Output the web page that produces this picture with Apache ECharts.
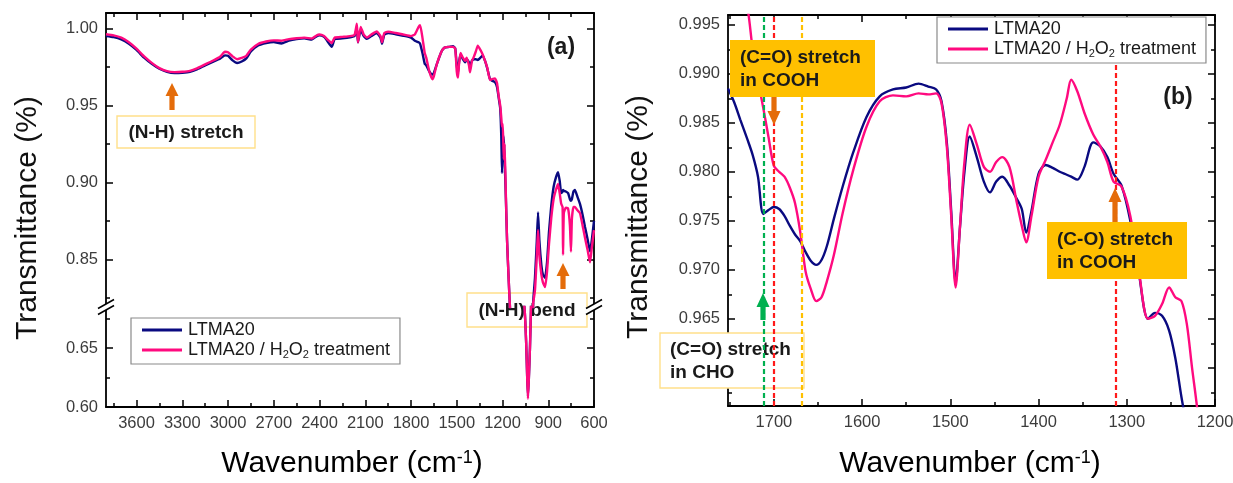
<!DOCTYPE html>
<html><head><meta charset="utf-8">
<script src="https://cdn.jsdelivr.net/npm/echarts@6/dist/echarts.min.js"></script>
<style>html,body{margin:0;padding:0;background:#fff}#c{width:1233px;height:483px}</style>
</head><body><div id="c"></div>
<script>
// ---------------- data ----------------
const seriesNames = ['LTMA20', 'LTMA20 / H2O2 treatment'];
const seriesColors = ['#0a0a80', '#ff0a7f'];

// Panel (a): full spectrum
const aWn = [3800,3750,3700,3650,3600,3550,3500,3450,3400,3350,3300,3250,3200,3150,3100,3050,3020,3000,2970,2940,2910,2880,2850,2800,2750,2700,2650,2600,2550,2500,2450,2420,2400,2370,2350,2320,2300,2250,2200,2170,2155,2148,2130,2110,2090,2060,2025,2000,1990,1975,1950,1900,1850,1800,1775,1750,1740,1725,1710,1700,1680,1660,1650,1630,1600,1580,1550,1525,1510,1500,1492,1485,1475,1460,1445,1435,1420,1413,1400,1390,1375,1362,1345,1330,1315,1300,1282,1269,1249,1236,1225,1215,1208,1203,1198,1192,1186,1178,1170,1160,1150,1100,1055,1045,1038,1033,1027,1020,1013,1005,1000,987,975,967,958,945,935,921,908,895,880,865,850,836,825,815,806,803,798,785,770,758,751,745,735,725,710,692,675,659,642,626,615,600];
const aBlue = [0.9950,0.9943,0.9928,0.9900,0.9860,0.9810,0.9770,0.9738,0.9718,0.9710,0.9712,0.9718,0.9736,0.9760,0.9782,0.9805,0.9825,0.9822,0.9792,0.9775,0.9785,0.9805,0.9850,0.9890,0.9905,0.9912,0.9902,0.9920,0.9930,0.9935,0.9928,0.9948,0.9955,0.9945,0.9920,0.9880,0.9930,0.9935,0.9942,0.9950,1.0000,0.9910,0.9990,0.9950,0.9932,0.9950,0.9970,0.9940,0.9900,0.9960,0.9970,0.9962,0.9952,0.9940,0.9920,0.9910,0.9900,0.9840,0.9770,0.9760,0.9720,0.9700,0.9710,0.9770,0.9850,0.9875,0.9880,0.9885,0.9870,0.9760,0.9710,0.9780,0.9830,0.9800,0.9780,0.9800,0.9780,0.9760,0.9790,0.9800,0.9800,0.9795,0.9810,0.9825,0.9790,0.9740,0.9670,0.9660,0.9650,0.9620,0.9550,0.9480,0.9300,0.9060,0.9280,0.9300,0.9150,0.8900,0.8620,0.8380,0.8170,0.7500,0.6830,0.6550,0.6250,0.6090,0.6250,0.6500,0.6850,0.7500,0.8200,0.8380,0.8620,0.8805,0.8620,0.8460,0.8400,0.8380,0.8480,0.8680,0.8850,0.8970,0.9030,0.9065,0.9010,0.8930,0.8940,0.8950,0.8945,0.8940,0.8930,0.8890,0.8880,0.8890,0.8940,0.8950,0.8910,0.8860,0.8790,0.8710,0.8630,0.8550,0.8620,0.8750];
const aPink = [0.9962,0.9955,0.9940,0.9910,0.9868,0.9818,0.9776,0.9742,0.9722,0.9716,0.9718,0.9724,0.9742,0.9766,0.9790,0.9818,0.9848,0.9845,0.9818,0.9800,0.9808,0.9822,0.9862,0.9900,0.9915,0.9922,0.9920,0.9930,0.9936,0.9940,0.9934,0.9954,0.9960,0.9950,0.9930,0.9905,0.9940,0.9945,0.9950,0.9958,1.0030,0.9910,1.0010,0.9960,0.9940,0.9960,0.9980,0.9950,0.9910,0.9970,0.9978,0.9970,0.9960,0.9950,0.9960,1.0010,1.0020,0.9940,0.9840,0.9810,0.9720,0.9670,0.9690,0.9770,0.9850,0.9875,0.9880,0.9880,0.9870,0.9720,0.9680,0.9770,0.9840,0.9810,0.9790,0.9810,0.9760,0.9715,0.9790,0.9810,0.9850,0.9888,0.9860,0.9830,0.9790,0.9745,0.9665,0.9670,0.9675,0.9645,0.9560,0.9500,0.9420,0.9360,0.9380,0.9150,0.9250,0.8920,0.8620,0.8380,0.8170,0.7500,0.6830,0.6550,0.6250,0.6070,0.6250,0.6500,0.6850,0.7500,0.8200,0.8300,0.8520,0.8690,0.8520,0.8400,0.8350,0.8320,0.8420,0.8600,0.8770,0.8890,0.8950,0.8990,0.8930,0.8860,0.8840,0.8530,0.8800,0.8835,0.8830,0.8720,0.8550,0.8760,0.8840,0.8840,0.8820,0.8800,0.8720,0.8640,0.8560,0.8480,0.8570,0.8690];

// Panel (b): 1750-1200 cm-1 detail
const bWn = [1752,1745,1738,1730,1724,1718,1712,1706,1700,1694,1688,1682,1676,1670,1664,1658,1652,1646,1640,1632,1622,1610,1595,1580,1565,1550,1536,1525,1516,1510,1504,1499,1494,1489,1484,1478,1470,1462,1455,1448,1441,1433,1425,1419,1414,1408,1400,1392,1384,1376,1368,1363,1356,1348,1338,1330,1322,1315,1306,1296,1286,1276,1268,1260,1252,1245,1238,1232,1226,1220,1214];
const bBlue = [0.9885,0.9871,0.9853,0.9833,0.9817,0.9795,0.9757,0.9761,0.9764,0.9762,0.9755,0.9745,0.9736,0.9729,0.9718,0.9709,0.9705,0.9710,0.9724,0.9752,0.9785,0.9820,0.9856,0.9877,0.9884,0.9886,0.9890,0.9887,0.9884,0.9872,0.9830,0.9760,0.9687,0.9744,0.9800,0.9836,0.9815,0.9790,0.9779,0.9790,0.9795,0.9786,0.9773,0.9762,0.9738,0.9760,0.9798,0.9807,0.9804,0.9800,0.9797,0.9795,0.9792,0.9805,0.9830,0.9826,0.9815,0.9798,0.9786,0.9750,0.9695,0.9650,0.9656,0.9653,0.9638,0.9610,0.9570,0.9540,0.9510,0.9480,0.9450];
const bPink = [1.0030,1.0015,0.9995,0.9968,0.9925,0.9893,0.9865,0.9835,0.9806,0.9800,0.9795,0.9784,0.9768,0.9738,0.9698,0.9680,0.9668,0.9672,0.9688,0.9715,0.9758,0.9802,0.9846,0.9872,0.9878,0.9877,0.9880,0.9879,0.9880,0.9870,0.9826,0.9755,0.9682,0.9745,0.9810,0.9848,0.9828,0.9805,0.9800,0.9810,0.9815,0.9805,0.9770,0.9745,0.9728,0.9755,0.9795,0.9812,0.9830,0.9848,0.9875,0.9894,0.9882,0.9860,0.9838,0.9826,0.9810,0.9790,0.9785,0.9755,0.9697,0.9650,0.9653,0.9665,0.9682,0.9672,0.9668,0.9645,0.9600,0.9557,0.9500];

// marker wavenumbers in panel (b)
const bMarkers = [
  {wn: 1712, color: '#00b050'},
  {wn: 1700, color: '#ff1a1a'},
  {wn: 1668, color: '#ffc000'},
  {wn: 1313, color: '#ff1a1a'}
];

// tick values
const aXMajor = [600,900,1200,1500,1800,2100,2400,2700,3000,3300,3600];
const aXMinor = [750,1050,1350,1650,1950,2250,2550,2850,3150,3450,3750];
const aYUpMajor = [0.85,0.90,0.95,1.00];
const aYUpMinor = [0.825,0.875,0.925,0.975];
const aYLoMajor = [0.60,0.65];
const aYLoMinor = [0.625,0.675];
const bXMajor = [1200,1300,1400,1500,1600,1700];
const bXMinor = [1250,1350,1450,1550,1650,1750];
const bYMajor = [0.960,0.965,0.970,0.975,0.980,0.985,0.990,0.995];
const bYMinor = [0.9575,0.9625,0.9675,0.9725,0.9775,0.9825,0.9875,0.9925];
const bYLabels = [0.965,0.970,0.975,0.980,0.985,0.990,0.995];

// ---------------- chart ----------------
const FF = 'Arial, "Liberation Sans", Helvetica, sans-serif';
const INK = '#1a1a1a';

function mkAxis(o) {
  return {
    type: 'value', gridIndex: o.grid, position: o.pos, min: o.min, max: o.max, inverse: !!o.inverse,
    axisLine: {show: !!o.line, onZero: false, lineStyle: {color: '#000', width: 1.8}},
    axisTick: {show: true, inside: true, length: o.len, customValues: o.ticks, lineStyle: {color: '#000', width: 1.5}},
    minorTick: {show: false},
    splitLine: {show: false},
    axisLabel: o.labels ? {show: true, customValues: o.labels, formatter: o.fmt, color: '#3c3c3c',
      fontSize: 16.5, fontFamily: FF, margin: 8} : {show: false},
    silent: true
  };
}
const A_X = {min: 600, max: 3800, inverse: true};
const A_YU = {min: 0.819, max: 1.01};
const A_YL = {min: 0.60, max: 0.685};
const B_X = {min: 1200, max: 1752, inverse: true};
const B_Y = {min: 0.9561, max: 0.996};
const MAJ = 7, MIN = 4;
const f2 = v => v.toFixed(2), f3 = v => v.toFixed(3);

const xAxes = [
  mkAxis({grid: 0, pos: 'top', ...A_X, line: true, ticks: aXMajor, len: MAJ}),           // 0
  mkAxis({grid: 0, pos: 'top', ...A_X, ticks: aXMinor, len: MIN}),                         // 1
  mkAxis({grid: 1, pos: 'bottom', ...A_X, line: true, ticks: aXMajor, len: MAJ, labels: aXMajor, fmt: v => String(v)}), // 2
  mkAxis({grid: 1, pos: 'bottom', ...A_X, ticks: aXMinor, len: MIN}),                      // 3
  mkAxis({grid: 2, pos: 'bottom', ...B_X, line: true, ticks: bXMajor, len: MAJ, labels: bXMajor, fmt: v => String(v)}), // 4
  mkAxis({grid: 2, pos: 'bottom', ...B_X, ticks: bXMinor, len: MIN}),                      // 5
  mkAxis({grid: 2, pos: 'top', ...B_X, line: true, ticks: bXMajor, len: MAJ}),             // 6
  mkAxis({grid: 2, pos: 'top', ...B_X, ticks: bXMinor, len: MIN})                          // 7
];
const yAxes = [
  mkAxis({grid: 0, pos: 'left', ...A_YU, line: true, ticks: aYUpMajor, len: MAJ, labels: aYUpMajor, fmt: f2}), // 0
  mkAxis({grid: 0, pos: 'left', ...A_YU, ticks: aYUpMinor, len: MIN}),
  mkAxis({grid: 0, pos: 'right', ...A_YU, line: true, ticks: aYUpMajor, len: MAJ}),
  mkAxis({grid: 0, pos: 'right', ...A_YU, ticks: aYUpMinor, len: MIN}),
  mkAxis({grid: 1, pos: 'left', ...A_YL, line: true, ticks: aYLoMajor, len: MAJ, labels: aYLoMajor, fmt: f2}), // 4
  mkAxis({grid: 1, pos: 'left', ...A_YL, ticks: aYLoMinor, len: MIN}),
  mkAxis({grid: 1, pos: 'right', ...A_YL, line: true, ticks: aYLoMajor, len: MAJ}),
  mkAxis({grid: 1, pos: 'right', ...A_YL, ticks: aYLoMinor, len: MIN}),
  mkAxis({grid: 2, pos: 'left', ...B_Y, line: true, ticks: bYMajor, len: MAJ, labels: bYLabels, fmt: f3}),   // 8
  mkAxis({grid: 2, pos: 'left', ...B_Y, ticks: bYMinor, len: MIN}),
  mkAxis({grid: 2, pos: 'right', ...B_Y, line: true, ticks: bYMajor, len: MAJ}),
  mkAxis({grid: 2, pos: 'right', ...B_Y, ticks: bYMinor, len: MIN})
];

function pairs(xs, ys) { return xs.map((x, i) => [x, ys[i]]); }
function line(name, color, data, xi, yi, smooth, extra) {
  return Object.assign({
    type: 'line', name, data, xAxisIndex: xi, yAxisIndex: yi, symbol: 'none', showSymbol: false,
    smooth, clip: true, lineStyle: {color, width: 2.4}, itemStyle: {color}, z: 2, silent: true
  }, extra || {});
}
const series = [
  line(seriesNames[0], seriesColors[0], pairs(aWn, aBlue), 0, 0, 0.15),
  line(seriesNames[1], seriesColors[1], pairs(aWn, aPink), 0, 0, 0.15),
  line(seriesNames[0], seriesColors[0], pairs(aWn, aBlue), 2, 4, 0.15),
  line(seriesNames[1], seriesColors[1], pairs(aWn, aPink), 2, 4, 0.15),
  line(seriesNames[0], seriesColors[0], pairs(bWn, bBlue), 4, 8, 0.3, {
    markLine: {
      symbol: 'none', silent: true, label: {show: false}, animation: false,
      lineStyle: {type: [5, 3], width: 2.2},
      data: bMarkers.map(m => ({xAxis: m.wn, lineStyle: {color: m.color, type: [5, 3], width: 2.2}}))
    }
  }),
  line(seriesNames[1], seriesColors[1], pairs(bWn, bPink), 4, 8, 0.3)
];

const legendRich = {
  n: {fontSize: 18, fontFamily: FF, color: INK, lineHeight: 20},
  s: {fontSize: 11, fontFamily: FF, color: INK, lineHeight: 20, verticalAlign: 'bottom', padding: [8, 0, 0, 0]}
};
const legendFmt = name => '{n|' + name.replace('H2O2', 'H}{s|2}{n|O}{s|2}{n|') + '}';
function mkLegend(left, top) {
  return {
    show: true, orient: 'vertical', left, top, data: seriesNames, icon: 'path://M0,0 L40,0 L40,3 L0,3 Z',
    itemWidth: 42, itemHeight: 3, itemGap: 2, padding: [3, 10, 4, 11],
    borderColor: '#8a8a8a', borderWidth: 1.2, backgroundColor: '#fff',
    formatter: legendFmt, textStyle: {rich: legendRich}, selectedMode: false, z: 6
  };
}

// annotations (pixel positions)
function arrow(x, tip, base, end, color) {
  const hw = 6.5, sw = 2.6;
  return {type: 'polygon', z: 20, silent: true,
    shape: {points: [[x, tip], [x + hw, base], [x + sw, base], [x + sw, end], [x - sw, end], [x - sw, base], [x - hw, base]]},
    style: {fill: color}};
}
function box(x, y, w, h, fill, stroke, z) {
  return {type: 'rect', z, silent: true, shape: {x, y, width: w, height: h},
    style: {fill, stroke: stroke || null, lineWidth: stroke ? 1.4 : 0}};
}
function txt(x, y, text, size, weight, align, z, extra, rot) {
  return {type: 'text', x, y, z: z || 21, silent: true, rotation: rot || 0,
    style: Object.assign({text, fontSize: size, fontWeight: weight, fontFamily: FF, fill: INK,
      align: align || 'left', verticalAlign: 'middle'}, extra || {})};
}
function breakMark(x, y) {
  return [
    {type: 'polygon', z: 20, silent: true, shape: {points: [[x - 8, y + 1.5], [x + 8, y - 7.5], [x + 8, y - 1.5], [x - 8, y + 7.5]]}, style: {fill: '#fff'}},
    {type: 'line', z: 21, silent: true, shape: {x1: x - 8, y1: y + 1.5, x2: x + 8, y2: y - 7.5}, style: {stroke: '#000', lineWidth: 1.5}},
    {type: 'line', z: 21, silent: true, shape: {x1: x - 8, y1: y + 7.5, x2: x + 8, y2: y - 1.5}, style: {stroke: '#000', lineWidth: 1.5}}
  ];
}
const ORANGE = '#e46c0a', GOLD = '#ffc000', PALE = '#ffe08a', GREEN = '#00b050';
const titleRich = {
  t: {fontSize: 30, fontFamily: FF, color: '#111'},
  s: {fontSize: 18, fontFamily: FF, color: '#111', verticalAlign: 'top'}
};
const graphics = [
  // axis titles
  txt(28, 218, 'Transmittance (%)', 30, 'normal', 'center', 21, {fill: '#111'}, Math.PI / 2),
  txt(639, 217, 'Transmittance (%)', 30, 'normal', 'center', 21, {fill: '#111'}, Math.PI / 2),
  {type: 'text', x: 352, y: 464, z: 21, silent: true, style: {text: '{t|Wavenumber (cm}{s|-1}{t|)}', rich: titleRich, align: 'center', verticalAlign: 'middle'}},
  {type: 'text', x: 970, y: 464, z: 21, silent: true, style: {text: '{t|Wavenumber (cm}{s|-1}{t|)}', rich: titleRich, align: 'center', verticalAlign: 'middle'}},
  // panel (a)
  txt(561, 48, '(a)', 23, 'bold', 'center'),
  arrow(172, 83, 96, 110, ORANGE),
  box(117, 116, 138, 32, '#fff', PALE, 1),
  txt(186, 133, '(N-H) stretch', 19, 'bold', 'center'),
  arrow(563, 263, 276, 289, ORANGE),
  box(467, 293, 120, 34, '#fff', PALE, 1),
  txt(527, 311, '(N-H) bend', 19, 'bold', 'center', 1),
  ...breakMark(106, 307),
  ...breakMark(594, 307),
  // panel (b)
  txt(1178, 98, '(b)', 23, 'bold', 'center'),
  box(730, 40, 145, 57, GOLD, null, 15),
  txt(740, 58, '(C=O) stretch', 19, 'bold'),
  txt(740, 81, 'in COOH', 19, 'bold'),
  arrow(774, 125, 111, 97, ORANGE),
  arrow(763, 293, 307, 320, GREEN),
  box(660, 333, 144, 55, '#fff', PALE, 1),
  txt(670, 350, '(C=O) stretch', 19, 'bold', 'left', 1),
  txt(670, 373, 'in CHO', 19, 'bold', 'left', 1),
  box(1047, 222, 140, 57, GOLD, null, 15),
  txt(1057, 240, '(C-O) stretch', 19, 'bold'),
  txt(1057, 263, 'in COOH', 19, 'bold'),
  arrow(1115, 188, 202, 222, ORANGE)
];

const option = {
  animation: false,
  backgroundColor: '#fff',
  grid: [
    {left: 106, top: 13, width: 488, height: 294, containLabel: false, outerBoundsMode: 'none'},
    {left: 106, top: 307, width: 488, height: 100, containLabel: false, outerBoundsMode: 'none'},
    {left: 728, top: 15, width: 487, height: 391, containLabel: false, outerBoundsMode: 'none'}
  ],
  xAxis: xAxes,
  yAxis: yAxes,
  legend: [mkLegend(131, 318), mkLegend(937, 17)],
  series,
  graphic: {elements: graphics}
};
const chart = echarts.init(document.getElementById('c'), null, {renderer: 'canvas'});
chart.setOption(option);
</script>
</body></html>
